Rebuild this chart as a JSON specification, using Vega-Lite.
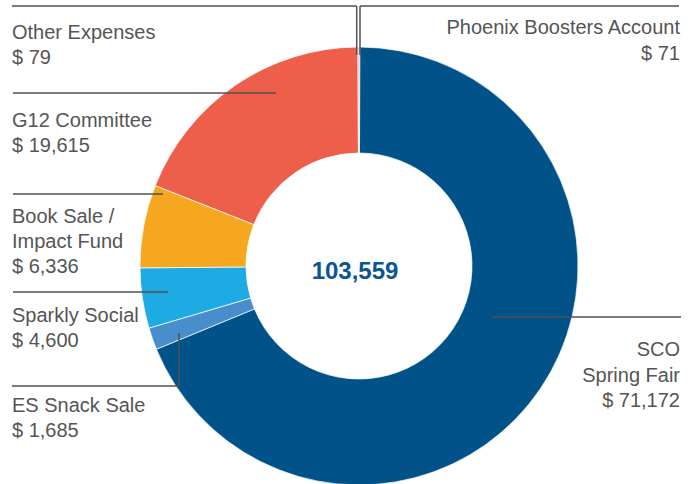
{
  "$schema": "https://vega.github.io/schema/vega-lite/v6.json",
  "width": 678,
  "height": 436,
  "autosize": {"type": "none"},
  "padding": {"left": 20, "top": 48, "right": 0, "bottom": 0},
  "background": "white",
  "config": {"view": {"stroke": null}},
  "datasets": {
    "slices": [
      {"category": "Phoenix Boosters Account", "amount": 71},
      {"category": "SCO Spring Fair", "amount": 71172},
      {"category": "ES Snack Sale", "amount": 1685},
      {"category": "Sparkly Social", "amount": 4600},
      {"category": "Book Sale / Impact Fund", "amount": 6336},
      {"category": "G12 Committee", "amount": 19615},
      {"category": "Other Expenses", "amount": 79}
    ],
    "labels": [
      {"category": "Other Expenses", "label": "Other Expenses", "side": "left", "y": -227},
      {"category": "G12 Committee", "label": "G12 Committee", "side": "left", "y": -139},
      {"category": "Book Sale / Impact Fund", "label": "Book Sale /|Impact Fund", "side": "left", "y": -43},
      {"category": "Sparkly Social", "label": "Sparkly Social", "side": "left", "y": 56},
      {"category": "ES Snack Sale", "label": "ES Snack Sale", "side": "left", "y": 146},
      {"category": "Phoenix Boosters Account", "label": "Phoenix Boosters Account", "side": "right", "y": -232},
      {"category": "SCO Spring Fair", "label": "SCO|Spring Fair", "side": "right", "y": 90}
    ],
    "leaders": [
      {"x": -347, "y": -260, "x2": -2.3, "y2": -260},
      {"x": -2.3, "y": -260, "x2": -2.3, "y2": -211},
      {"x": 1, "y": -260, "x2": 320, "y2": -260},
      {"x": 1, "y": -260, "x2": 1, "y2": -211},
      {"x": -346, "y": -173, "x2": -83, "y2": -173},
      {"x": -346, "y": -72, "x2": -196, "y2": -72},
      {"x": -346, "y": 26, "x2": -191, "y2": 26},
      {"x": -347, "y": 120, "x2": -180, "y2": 120},
      {"x": -180, "y": 67, "x2": -180, "y2": 120},
      {"x": 133, "y": 51, "x2": 322, "y2": 51}
    ]
  },
  "layer": [
    {
      "data": {"name": "slices"},
      "transform": [{"window": [{"op": "row_number", "as": "idx"}]}],
      "mark": {"type": "arc", "outerRadius": 219, "innerRadius": 113, "stroke": "white", "strokeWidth": 0.7},
      "encoding": {
        "theta": {"field": "amount", "type": "quantitative", "stack": true},
        "order": {"field": "idx", "type": "quantitative"},
        "color": {
          "field": "category",
          "type": "nominal",
          "legend": null,
          "scale": {
            "domain": ["Phoenix Boosters Account", "SCO Spring Fair", "ES Snack Sale", "Sparkly Social", "Book Sale / Impact Fund", "G12 Committee", "Other Expenses"],
            "range": ["#2d5f8a", "#005289", "#488dcc", "#1eabe3", "#f5a81f", "#ee5f4b", "#e98a92"]
          }
        }
      }
    },
    {
      "data": {"name": "leaders"},
      "mark": {"type": "rule", "color": "#505050", "strokeWidth": 1.5},
      "encoding": {
        "x": {"field": "x", "type": "quantitative", "scale": {"domain": [-339, 339], "nice": false, "zero": false}, "axis": null},
        "y": {"field": "y", "type": "quantitative", "scale": {"domain": [-218, 218], "nice": false, "zero": false, "reverse": true}, "axis": null},
        "x2": {"field": "x2"},
        "y2": {"field": "y2"}
      }
    },
    {
      "data": {"name": "labels"},
      "transform": [
        {"filter": "datum.side === 'left'"},
        {"lookup": "category", "from": {"data": {"name": "slices"}, "key": "category", "fields": ["amount"]}},
        {"calculate": "datum.label + '|$ ' + format(datum.amount, ',')", "as": "txt"}
      ],
      "mark": {"type": "text", "align": "left", "baseline": "alphabetic", "font": "Liberation Sans", "fontSize": 20, "lineHeight": 25, "lineBreak": "|", "color": "#555555"},
      "encoding": {
        "x": {"datum": -347, "type": "quantitative", "scale": {"domain": [-339, 339], "nice": false, "zero": false}, "axis": null},
        "y": {"field": "y", "type": "quantitative", "scale": {"domain": [-218, 218], "nice": false, "zero": false, "reverse": true}, "axis": null},
        "text": {"field": "txt", "type": "nominal"}
      }
    },
    {
      "data": {"name": "labels"},
      "transform": [
        {"filter": "datum.side === 'right'"},
        {"lookup": "category", "from": {"data": {"name": "slices"}, "key": "category", "fields": ["amount"]}},
        {"calculate": "datum.label + '|$ ' + format(datum.amount, ',')", "as": "txt"}
      ],
      "mark": {"type": "text", "align": "right", "baseline": "alphabetic", "font": "Liberation Sans", "fontSize": 20, "lineHeight": 25.5, "lineBreak": "|", "color": "#555555"},
      "encoding": {
        "x": {"datum": 321, "type": "quantitative", "scale": {"domain": [-339, 339], "nice": false, "zero": false}, "axis": null},
        "y": {"field": "y", "type": "quantitative", "scale": {"domain": [-218, 218], "nice": false, "zero": false, "reverse": true}, "axis": null},
        "text": {"field": "txt", "type": "nominal"}
      }
    },
    {
      "data": {"values": [{"total": "103,559"}]},
      "mark": {"type": "text", "align": "center", "baseline": "alphabetic", "font": "Liberation Sans", "fontSize": 24, "fontWeight": "bold", "color": "#0a5592"},
      "encoding": {
        "x": {"datum": -4, "type": "quantitative", "scale": {"domain": [-339, 339], "nice": false, "zero": false}, "axis": null},
        "y": {"datum": 13, "type": "quantitative", "scale": {"domain": [-218, 218], "nice": false, "zero": false, "reverse": true}, "axis": null},
        "text": {"field": "total", "type": "nominal"}
      }
    }
  ]
}
